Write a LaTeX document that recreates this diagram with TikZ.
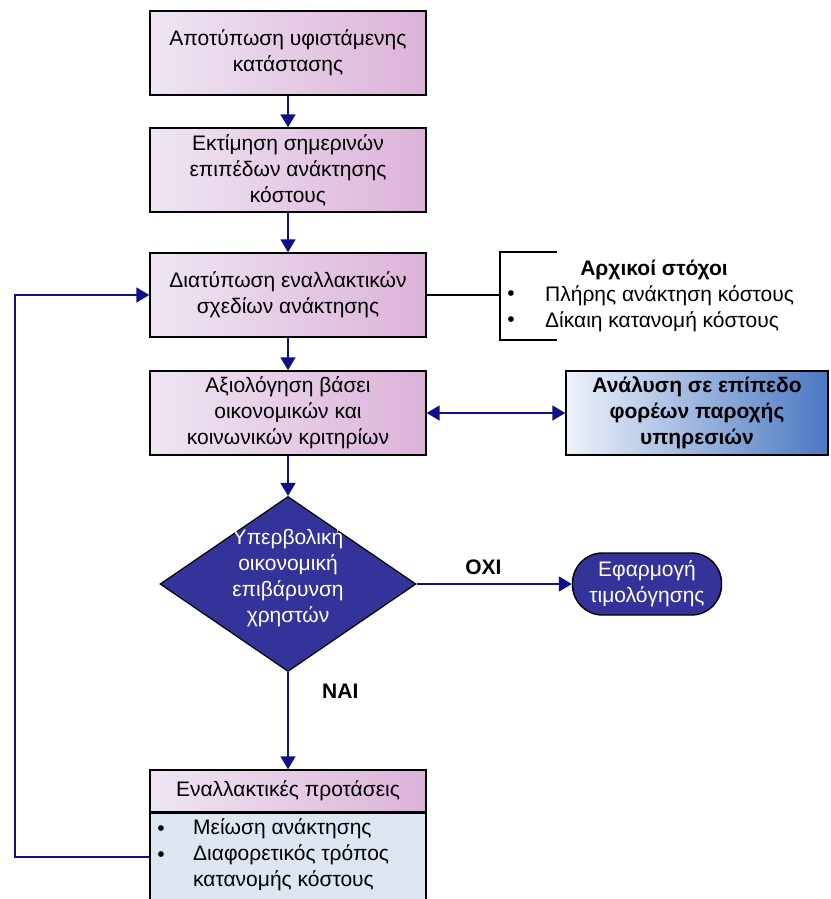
\documentclass[tikz,border=0pt]{standalone}
\usepackage{fontspec}
\setmainfont{Liberation Sans}
\usetikzlibrary{positioning,shapes.geometric,arrows.meta}

\definecolor{navyline}{HTML}{10108A}
\definecolor{pinkL}{HTML}{EEE6F2}
\definecolor{pinkR}{HTML}{DCB2D8}
\definecolor{provL}{HTML}{EEF2FA}
\definecolor{provR}{HTML}{4A78C2}
\definecolor{decfill}{HTML}{333399}
\definecolor{bodyblue}{HTML}{DDE5F1}
\newcommand\mainfs{\fontsize{21}{26}\selectfont}

\tikzset{
  stage/.style={draw=black, line width=1.4pt, left color=pinkL, right color=pinkR,
    minimum width=276pt, minimum height=84pt, align=center, font=\mainfs, inner sep=2pt},
  flow/.style={draw=navyline, line width=1.8pt, -{Triangle[length=13pt,width=15pt]}},
  bline/.style={draw=black, line width=1.4pt},
}

\begin{document}
\begin{tikzpicture}[x=1pt,y=-1pt]
\useasboundingbox (0,0) rectangle (830,899);
% main column
\node[stage] (surv) at (288,53) {Αποτύπωση υφιστάμενης\\κατάστασης};
\node[stage] (est) at (288,170) {Εκτίμηση σημερινών\\επιπέδων ανάκτησης\\κόστους};
\node[stage] (alt) at (288,295) {Διατύπωση εναλλακτικών\\σχεδίων ανάκτησης};
\node[stage] (eval) at (288,413) {Αξιολόγηση βάσει\\οικονομικών και\\κοινωνικών κριτηρίων};
\node[stage, draw=black, left color=provL, right color=provR, minimum width=262pt,
  font=\mainfs\bfseries] (prov) at (697,413) {Ανάλυση σε επίπεδο\\φορέων παροχής\\υπηρεσιών};

% decision
\node[diamond, draw=black, line width=1.2pt, fill=decfill, inner sep=0pt,
  minimum width=256pt, minimum height=175pt] (dec) at (288,584) {};
\node[font=\mainfs, text=white, align=center] (decq) at (288,578)
  {Υπερβολική\\οικονομική\\επιβάρυνση\\χρηστών};
\node[draw=black, line width=1.4pt, fill=decfill, rounded corners=30pt, text=white,
  minimum width=149pt, minimum height=62pt, align=center, font=\mainfs] (price) at (647,584)
  {Εφαρμογή\\τιμολόγησης};

% alternatives
\node[stage, minimum height=42pt] (prop) at (288,791) {Εναλλακτικές προτάσεις};
\node[draw=black, line width=1.4pt, fill=bodyblue, minimum width=276pt, minimum height=110pt,
  anchor=north] (propb) at (prop.south) {};
\node[font=\mainfs, align=left, anchor=north west, inner sep=0pt] (propt) at (193,818)
  {Μείωση ανάκτησης\\Διαφορετικός τρόπος\\κατανομής κόστους};
\node[font=\mainfs] (pb1) at (161,831) {•};
\node[font=\mainfs] (pb2) at (161,857) {•};

% initial goals
\coordinate (brk) at (500,295);
\coordinate (brkt) at (500,252);
\coordinate (brkb) at (500,340);
\draw[bline] (alt.east) -- (brk);
\draw[bline] (557,252) -- (brkt) -- (brkb) -- (557,340);
\node[font=\mainfs\bfseries] (goalt) at (654,270) {Αρχικοί στόχοι};
\node[font=\mainfs, anchor=west, inner sep=0pt] (goal1) at (545,296) {Πλήρης ανάκτηση κόστους};
\node[font=\mainfs, anchor=west, inner sep=0pt] (goal2) at (545,322) {Δίκαιη κατανομή κόστους};
\node[font=\mainfs] (gb1) at (511,296) {•};
\node[font=\mainfs] (gb2) at (511,322) {•};

% connectors
\draw[flow] (surv) -- (est);
\draw[flow] (est) -- (alt);
\draw[flow] (alt) -- (eval);
\draw[flow] (eval) -- (dec);
\draw[flow, {Triangle[length=13pt,width=15pt]}-{Triangle[length=13pt,width=15pt]}] (eval) -- (prov);
\draw[flow] (dec) -- node[pos=0.43, above=5pt, text=black, font=\mainfs\bfseries] {ΟΧΙ} (price);
\draw[flow] (dec) -- node[pos=0.2, right=30pt, text=black, font=\mainfs\bfseries] {ΝΑΙ} (prop);
\coordinate (loopb) at (15,857);
\coordinate (loopt) at (15,295);
\draw[flow] (propb.west |- loopb) -- (loopb) -- (loopt) -- (alt.west);
\end{tikzpicture}
\end{document}
